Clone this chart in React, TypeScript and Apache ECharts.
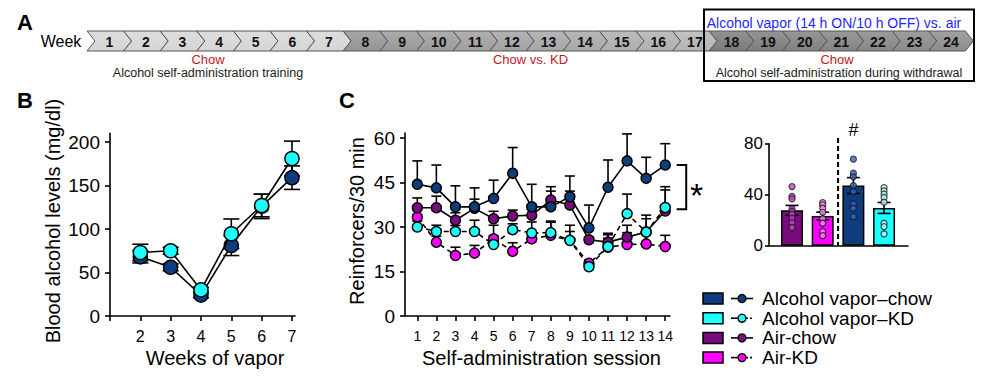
import React, { useEffect, useRef } from "react";
import * as echarts from "echarts";

const FONT = '"Liberation Sans", Arial, Helvetica, sans-serif';

// ---------- Panel A: timeline ----------
const weeks = [1, 2, 3, 4, 5, 6, 7, 8, 9, 10, 11, 12, 13, 14, 15, 16, 17, 18, 19, 20, 21, 22, 23, 24];
const trainingEnd = 7;
const dietEnd = 17;

// ---------- Panel B: blood alcohol levels ----------
const weeksOfVapor = [2, 3, 4, 5, 6, 7];
const bacChow = [68, 56, 24, 81, 126, 159];
const bacChowSem = [7, 4, 3, 11.5, 14, 13.5];
const bacKD = [73, 75, 30, 94.5, 127, 181];
const bacKDSem = [9.5, 4, 3, 17, 13, 20];
const bacTicks = [0, 50, 100, 150, 200];

// ---------- Panel C: reinforcers per session ----------
const sessions = [1, 2, 3, 4, 5, 6, 7, 8, 9, 10, 11, 12, 13, 14];
const vapChow = [44.4, 43.2, 36.8, 36.8, 39.6, 48.1, 36.8, 36.8, 40.2, 29.7, 43.4, 52.3, 46.4, 50.9];
const vapChowSem = [7.9, 7.7, 7.1, 6.4, 6.2, 8.7, 7.6, 6.8, 7.0, 7.7, 9.2, 9.1, 7.1, 7.2];
const airChow = [36.5, 36.5, 32.3, 36.3, 32.8, 33.7, 34.0, 39.1, 37.4, 25.7, 24.9, 26.6, 28.3, 35.4];
const airChowSem = [3.3, 3.9, 2.5, 3.1, 2.5, 2.0, 1.9, 3.0, 4.7, 1.0, 3.0, 4.0, 4.5, 8.2];
const vapKD = [30.0, 28.5, 28.5, 28.5, 24.1, 29.1, 28.0, 28.1, 25.5, 16.6, 23.4, 34.5, 28.3, 36.6];
const vapKDSem = [2.0, 2.1, 2.0, 3.8, 3.0, 2.0, 3.7, 3.9, 5.1, 2.1, 4.0, 6.6, 5.7, 5.9];
const airKD = [33.4, 24.9, 20.4, 21.2, 26.0, 21.8, 26.0, 27.2, 25.5, 17.8, 23.2, 24.1, 24.3, 23.4];
const airKDSem = [3.0, 2.0, 2.8, 2.6, 4.6, 2.9, 2.0, 4.4, 3.0, 1.0, 3.0, 4.0, 3.5, 3.8];
const reinfTicks = [0, 15, 30, 45, 60];
const sigTop = 50.9;
const sigBottom = 36.0;

// ---------- Inset: bars ----------
const barGroups = ["Air-chow", "Air-KD", "Alcohol vapor–chow", "Alcohol vapor–KD"];
const barX = [1, 2, 3, 4];
const barMeans = [27.8, 23.3, 47.2, 29.6];
const barSem = [3.8, 3.0, 6.2, 4.3];
const dotsAirChow = [46.4, 38.6, 36.7, 29.0, 27.0, 24.7, 21.5, 18.1, 14.2];
const dotsAirKD = [33.8, 32.0, 29.4, 26.2, 21.0, 17.6, 11.0, 7.9];
const dotsVapChow = [80.5, 67.9, 56.9, 54.0, 47.2, 42.5, 32.8, 29.4, 22.8];
const dotsVapKD = [45.6, 43.0, 40.4, 37.8, 34.1, 17.6, 15.0, 9.2];
const barTicks = [0, 40, 80];

// ---------- colours ----------
const C_BLUE = "#0d3d7c";
const C_CYAN = "#1cffff";
const C_PURPLE = "#7a0a7e";
const C_MAGENTA = "#ff00ff";
const barColors = [C_PURPLE, C_MAGENTA, C_BLUE, C_CYAN];
const dotColors = ["#c844cc", "#ff8cff", "#3468c4", "#b8ffff"];

function mix(a: string, b: string, t: number) {
  const pa = [1, 3, 5].map((i) => parseInt(a.slice(i, i + 2), 16));
  const pb = [1, 3, 5].map((i) => parseInt(b.slice(i, i + 2), 16));
  const r = pa.map((v, i) => Math.round(v + (pb[i] - v) * t));
  return "#" + r.map((v) => v.toString(16).padStart(2, "0")).join("");
}
function weekFill(w: number) {
  let base: string;
  if (w <= trainingEnd) base = "#d6d6d6";
  else if (w <= dietEnd) base = mix("#949494", "#b4b4b4", (w - 8) / (dietEnd - 8));
  else base = mix("#7a7a7a", "#8c8c8c", (w - 18) / 6);
  return {
    type: "linear", x: 0, y: 0, x2: 0, y2: 1,
    colorStops: [
      { offset: 0, color: mix(base, "#ffffff", 0.18) },
      { offset: 1, color: base },
    ],
  };
}

function errBars(xs: number[], means: number[], sems: number[], idx: number, cap: number, both: boolean) {
  return {
    type: "custom",
    xAxisIndex: idx,
    yAxisIndex: idx,
    z: 2,
    silent: true,
    data: xs.map((x, i) => [x, means[i], sems[i]]),
    renderItem: (_p: any, api: any) => {
      const x = api.value(0), m = api.value(1), s = api.value(2);
      const lo = api.coord([x, both ? m - s : m]);
      const hi = api.coord([x, m + s]);
      const st = { stroke: "#000", lineWidth: 1.6 };
      const children: any[] = [
        { type: "line", shape: { x1: hi[0], y1: lo[1], x2: hi[0], y2: hi[1] }, style: st },
        { type: "line", shape: { x1: hi[0] - cap, y1: hi[1], x2: hi[0] + cap, y2: hi[1] }, style: st },
      ];
      if (both) children.push({ type: "line", shape: { x1: lo[0] - cap, y1: lo[1], x2: lo[0] + cap, y2: lo[1] }, style: st });
      return { type: "group", children };
    },
  };
}

function lineSeries(xs: number[], ys: number[], idx: number, color: string, size: number, dashed: boolean, z: number) {
  return {
    type: "line",
    xAxisIndex: idx,
    yAxisIndex: idx,
    z,
    data: xs.map((x, i) => [x, ys[i]]),
    symbol: "circle",
    symbolSize: size,
    itemStyle: { color, borderColor: "#000", borderWidth: 1.5 },
    lineStyle: { color: "#000", width: 1.6, type: dashed ? [5, 4] : "solid" },
  };
}

const axisLine = { show: true, onZero: false, lineStyle: { color: "#000", width: 1.6 } };

function txt(id: string, x: number, y: number, text: string, font: string, fill = "#000", align = "center", extra: any = {}, lineHeight?: number) {
  const style: any = { text, font, fill, align, textAlign: align, verticalAlign: "middle", textVerticalAlign: "middle" };
  if (lineHeight) style.lineHeight = lineHeight;
  return { id, type: "text", x, y, ...extra, style };
}

export default function App() {
  const ref = useRef<HTMLDivElement>(null);
  useEffect(() => {
    if (!ref.current) return;
    const chart = echarts.init(ref.current, undefined, { renderer: "svg" });
    const option: any = {
      animation: false,
      backgroundColor: "#ffffff",
      textStyle: { fontFamily: FONT },
      grid: [
        { left: 110, top: 133.3, width: 185, height: 182.7 },
        { left: 405, top: 133, width: 265, height: 183 },
        { left: 769, top: 143.7, width: 139, height: 102 },
        { left: 87, top: 31, width: 878.4, height: 20 },
      ],
      xAxis: [
        {
          type: "value", gridIndex: 0, min: 1, max: 7.1,
          axisLine, splitLine: { show: false },
          axisTick: { show: true, length: 5, lineStyle: { color: "#000", width: 1.6 }, customValues: [1, ...weeksOfVapor] },
          axisLabel: { customValues: weeksOfVapor, fontSize: 16, color: "#000", margin: 12, fontFamily: FONT },
        },
        {
          type: "value", gridIndex: 1, min: 0.355, max: 14.25,
          axisLine, splitLine: { show: false },
          axisTick: { show: true, length: 5, lineStyle: { color: "#000", width: 1.6 }, customValues: sessions },
          axisLabel: { customValues: sessions, fontSize: 14, color: "#000", margin: 13, fontFamily: FONT },
        },
        {
          type: "value", gridIndex: 2, min: 0.25, max: 4.78,
          axisLine, splitLine: { show: false }, axisTick: { show: false }, axisLabel: { show: false },
        },
        { type: "value", gridIndex: 3, min: 0, max: 24, show: false },
      ],
      yAxis: [
        {
          type: "value", gridIndex: 0, min: 0, max: 210,
          axisLine, splitLine: { show: false },
          axisTick: { show: true, length: 5, lineStyle: { color: "#000", width: 1.6 }, customValues: bacTicks },
          axisLabel: { customValues: bacTicks, fontSize: 19, color: "#000", margin: 10, fontFamily: FONT },
        },
        {
          type: "value", gridIndex: 1, min: 0, max: 61.7,
          axisLine, splitLine: { show: false },
          axisTick: { show: true, length: 5, lineStyle: { color: "#000", width: 1.6 }, customValues: reinfTicks },
          axisLabel: { customValues: reinfTicks, fontSize: 19, color: "#000", margin: 10, fontFamily: FONT },
        },
        {
          type: "value", gridIndex: 2, min: 0, max: 80,
          axisLine, splitLine: { show: false },
          axisTick: { show: true, length: 4, lineStyle: { color: "#000", width: 1.6 }, customValues: barTicks },
          axisLabel: { customValues: barTicks, fontSize: 17, color: "#000", margin: 6, fontFamily: FONT },
        },
        { type: "value", gridIndex: 3, min: 0, max: 1, show: false },
      ],
      series: [
        // Panel A chevrons
        {
          type: "custom", xAxisIndex: 3, yAxisIndex: 3, silent: true,
          data: weeks.map((w) => [w]),
          renderItem: (_p: any, api: any) => {
            const w = api.value(0);
            const a = api.coord([w - 1, 1]);
            const b = api.coord([w, 0]);
            const x0 = a[0], top = a[1], x1 = b[0], bottom = b[1];
            const mid = (top + bottom) / 2;
            const d = 8;
            return {
              type: "group",
              children: [
                {
                  type: "polygon",
                  shape: { points: [[x0, top], [x1, top], [x1 + d, mid], [x1, bottom], [x0, bottom], [x0 + d, mid]] },
                  style: { fill: weekFill(w), stroke: "#555555", lineWidth: 1 },
                },
                {
                  type: "text",
                  style: {
                    text: String(w), x: (x0 + x1) / 2 + d / 2, y: mid + 0.5,
                    align: "center", verticalAlign: "middle", textAlign: "center", textVerticalAlign: "middle",
                    font: `bold 14px ${FONT}`, fill: "#111",
                  },
                },
              ],
            };
          },
        },
        // Panel B
        errBars(weeksOfVapor, bacChow, bacChowSem, 0, 8, true),
        errBars(weeksOfVapor, bacKD, bacKDSem, 0, 8, true),
        lineSeries(weeksOfVapor, bacChow, 0, C_BLUE, 14, false, 3),
        lineSeries(weeksOfVapor, bacKD, 0, C_CYAN, 14, false, 4),
        // Panel C
        errBars(sessions, airKD, airKDSem, 1, 5, false),
        errBars(sessions, airChow, airChowSem, 1, 5, false),
        errBars(sessions, vapKD, vapKDSem, 1, 5, false),
        errBars(sessions, vapChow, vapChowSem, 1, 5, false),
        lineSeries(sessions, airKD, 1, C_MAGENTA, 10, true, 3),
        lineSeries(sessions, airChow, 1, C_PURPLE, 10, false, 4),
        lineSeries(sessions, vapKD, 1, C_CYAN, 10, true, 5),
        lineSeries(sessions, vapChow, 1, C_BLUE, 10, false, 6),
        // Inset bars
        {
          type: "bar", xAxisIndex: 2, yAxisIndex: 2, barWidth: 22, z: 1,
          data: barX.map((x, i) => ({
            name: barGroups[i],
            value: [x, barMeans[i]],
            itemStyle: { color: barColors[i], borderColor: "#000", borderWidth: 1.5 },
          })),
        },
        errBars(barX, barMeans, barSem, 2, 6.5, true),
        ...[dotsAirChow, dotsAirKD, dotsVapChow, dotsVapKD].map((dots, gi) => ({
          type: "scatter", xAxisIndex: 2, yAxisIndex: 2, z: 5,
          symbolSize: 6,
          data: dots.map((v) => [barX[gi], v]),
          itemStyle: { color: dotColors[gi], borderColor: "#1a1a1a", borderWidth: 1.2 },
        })),
      ],
    };
    chart.setOption(option);

    const px = (gi: number, pt: number[]) => chart.convertToPixel({ xAxisIndex: gi, yAxisIndex: gi } as any, pt) as number[];
    const bT1 = px(1, [14.6, sigTop]);
    const bT2 = px(1, [15.1, sigTop]);
    const bB2 = px(1, [15.1, sigBottom]);
    const bB1 = px(1, [14.6, sigBottom]);
    const star = px(1, [15.65, (sigTop + sigBottom) / 2]);
    const sepTop = px(2, [2.5, 84.5]);
    const sepBot = px(2, [2.5, 0]);
    const hash = px(2, [barX[2], 90.5]);

    const legendItems = [
      { name: "Alcohol vapor–chow", color: C_BLUE, dashed: false },
      { name: "Alcohol vapor–KD", color: C_CYAN, dashed: true },
      { name: "Air-chow", color: C_PURPLE, dashed: false },
      { name: "Air-KD", color: C_MAGENTA, dashed: true },
    ];
    const legendY = [298.5, 318.2, 337.9, 357.6];
    const legendEls: any[] = [];
    legendItems.forEach((it, i) => {
      const y = legendY[i];
      legendEls.push({ id: "lr" + i, type: "rect", shape: { x: 703, y: y - 5.5, width: 20, height: 11 }, style: { fill: it.color, stroke: "#000", lineWidth: 1.5 } });
      legendEls.push({ id: "ll" + i, type: "line", shape: { x1: 731, y1: y, x2: 738, y2: y }, style: { stroke: "#000", lineWidth: 1.6 } });
      legendEls.push({ id: "lm" + i, type: "line", shape: { x1: 746, y1: y, x2: 753, y2: y }, style: { stroke: "#000", lineWidth: 1.6, lineDash: it.dashed ? [2, 2] : null } });
      legendEls.push({ id: "lc" + i, type: "circle", shape: { cx: 742, cy: y, r: 4 }, style: { fill: it.color, stroke: "#000", lineWidth: 1.3 } });
      legendEls.push(txt("lt" + i, 762, y, it.name, `19px ${FONT}`, "#000", "left", {}, 18));
    });

    chart.setOption({
      graphic: [
        // panel letters
        txt("pA", 25, 22, "A", `bold 22px ${FONT}`),
        txt("pB", 25, 100, "B", `bold 22px ${FONT}`),
        txt("pC", 347, 100, "C", `bold 22px ${FONT}`),
        // panel A texts
        txt("week", 61, 41.5, "Week", `16px ${FONT}`),
        txt("chow1", 208, 59.5, "Chow", `13px ${FONT}`, "#c0181f", "center", {}, 12),
        txt("train", 208, 73, "Alcohol self-administration training", `12.5px ${FONT}`, "#1a1a1a", "center", {}, 12),
        txt("chowkd", 530.5, 59.5, "Chow vs. KD", `13px ${FONT}`, "#c0181f", "center", {}, 12),
        {
          id: "box", type: "rect", shape: { x: 704, y: 9.5, width: 270, height: 71.5 },
          style: { fill: "none", stroke: "#000", lineWidth: 2 }, z: 10,
        },
        txt("vapor", 834, 22.5, "Alcohol vapor (14 h ON/10 h OFF) vs. air", `14px ${FONT}`, "#1f1fff"),
        txt("chow2", 837, 59.5, "Chow", `13px ${FONT}`, "#c0181f", "center", {}, 12),
        txt("withdr", 839, 73, "Alcohol self-administration during withdrawal", `12.5px ${FONT}`, "#1a1a1a", "center", {}, 12),
        // axis titles
        txt("bx", 215, 358, "Weeks of vapor", `20px ${FONT}`),
        txt("by", 53, 221, "Blood alcohol levels (mg/dl)", `20px ${FONT}`, "#000", "center", { rotation: Math.PI / 2 }),
        txt("cx", 541.5, 358, "Self-administration session", `20px ${FONT}`),
        txt("cy", 357, 221, "Reinforcers/30 min", `20px ${FONT}`, "#000", "center", { rotation: Math.PI / 2 }),
        // significance bracket
        {
          id: "bracket", type: "polyline",
          shape: { points: [bT1, bT2, bB2, bB1] },
          style: { fill: "none", stroke: "#000", lineWidth: 2 },
        },
        txt("star", star[0], star[1] + 8, "*", `34px ${FONT}`),
        // inset separator and #
        {
          id: "sep", type: "line",
          shape: { x1: sepTop[0], y1: sepTop[1], x2: sepBot[0], y2: sepBot[1] },
          style: { stroke: "#000", lineWidth: 2, lineDash: [5, 3] },
        },
        txt("hash", hash[0], hash[1], "#", `18px ${FONT}`),
        ...legendEls,
      ],
    });

    return () => chart.dispose();
  }, []);
  return <div ref={ref} style={{ position: "fixed", left: 0, top: 0, width: 990, height: 380 }} />;
}
